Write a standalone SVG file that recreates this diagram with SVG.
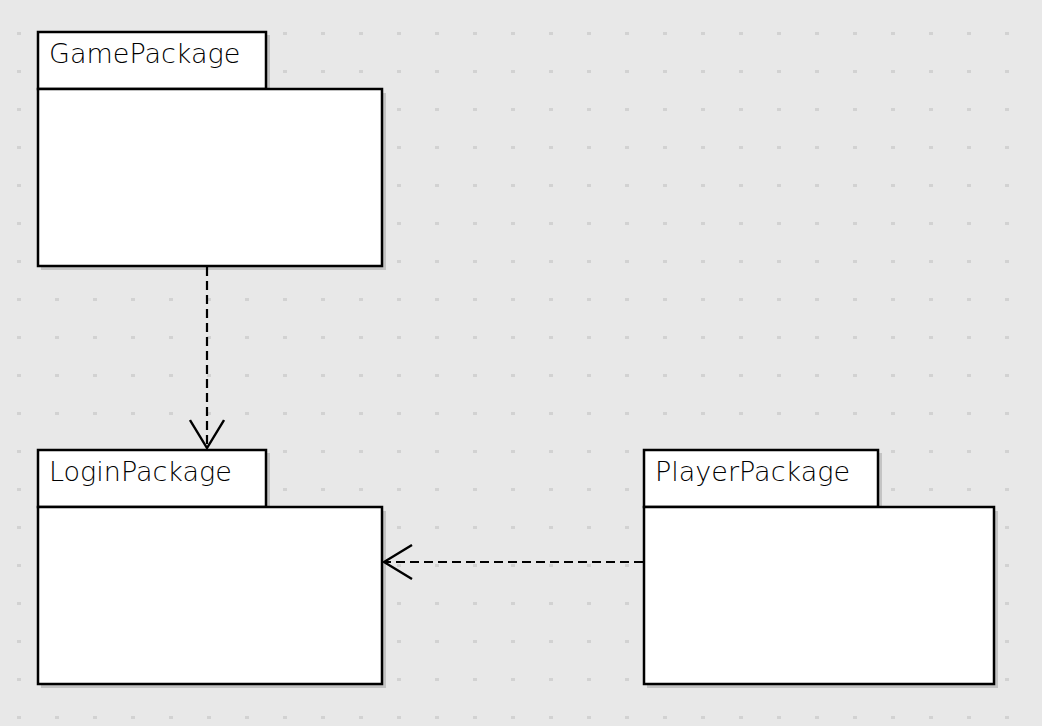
<svg xmlns="http://www.w3.org/2000/svg" width="1042" height="726" viewBox="0 0 1042 726">
<defs>
<pattern id="grid" x="0" y="0" width="38" height="38" patternUnits="userSpaceOnUse">
<rect x="17" y="32" width="4" height="3" fill="#d2d2d2"/>
</pattern>
<marker id="open" viewBox="0 0 30 36" refX="29" refY="18" markerWidth="30" markerHeight="36" markerUnits="userSpaceOnUse" orient="auto">
<path d="M1,1 L29,18 L1,35" fill="none" stroke="#000" stroke-width="2.4"/>
</marker>
</defs>
<style>
.shadow{fill:#c4c4c4;}
.box{fill:#fff;stroke:#000;stroke-width:2.5;}
.label{font-family:"DejaVu Sans",sans-serif;font-size:27px;font-weight:200;fill:#000;}
.dep{fill:none;stroke:#000;stroke-width:2.2;stroke-dasharray:9,5;}
</style>
<rect width="1042" height="726" fill="#e8e8e8"/>
<rect width="1042" height="726" fill="url(#grid)"/>
<g id="GamePackage">
<rect class="shadow" x="41" y="35" width="229" height="58"/>
<rect class="shadow" x="41" y="93" width="345" height="177"/>
<rect class="box" x="38" y="32" width="228" height="57"/>
<rect class="box" x="38" y="89" width="344" height="177"/>
<text class="label" x="49" y="63">GamePackage</text>
</g>
<g id="LoginPackage">
<rect class="shadow" x="41" y="453" width="229" height="58"/>
<rect class="shadow" x="41" y="511" width="345" height="177"/>
<rect class="box" x="38" y="450" width="228" height="57"/>
<rect class="box" x="38" y="507" width="344" height="177"/>
<text class="label" x="49" y="481">LoginPackage</text>
</g>
<g id="PlayerPackage">
<rect class="shadow" x="647" y="453" width="235" height="58"/>
<rect class="shadow" x="647" y="511" width="351" height="177"/>
<rect class="box" x="644" y="450" width="234" height="57"/>
<rect class="box" x="644" y="507" width="350" height="177"/>
<text class="label" x="655" y="481">PlayerPackage</text>
</g>
<g id="connectors">
<path class="dep" d="M207,267 L207,448" marker-end="url(#open)"/>
<path class="dep" d="M643,562 L384,562" marker-end="url(#open)"/>
</g>
</svg>
